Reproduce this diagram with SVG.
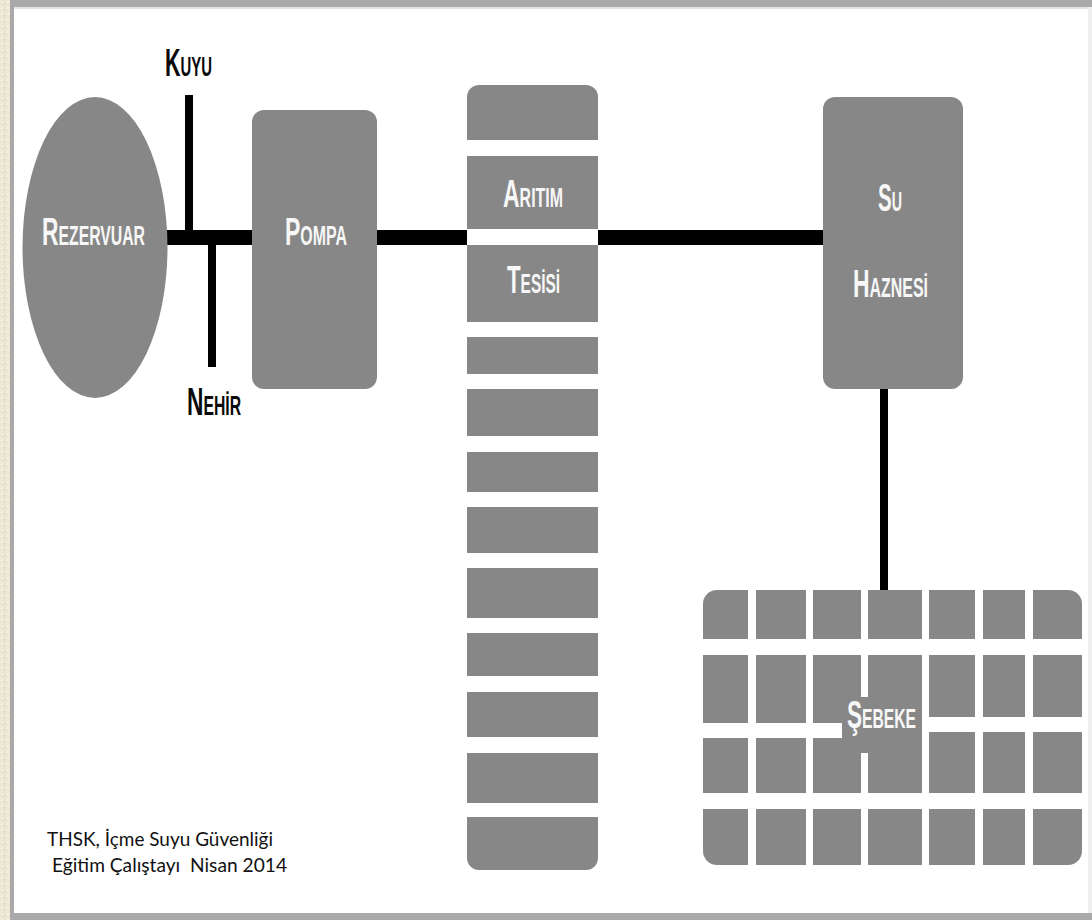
<svg xmlns="http://www.w3.org/2000/svg" width="1092" height="920" viewBox="0 0 1092 920">
  <defs>
    <pattern id="linen" width="6" height="6" patternUnits="userSpaceOnUse">
      <rect width="6" height="6" fill="#ebe7d3"/>
      <rect x="1" y="1" width="2" height="2" fill="#f6f3e6"/>
      <rect x="4" y="3" width="1" height="2" fill="#d9d4bd"/>
    </pattern>
  </defs>
  <style>
    .shape { fill: #878787; }
    .wire { fill: #000000; }
    .gap { fill: #ffffff; }
    .lbl { font-family: "Liberation Sans", Arial, sans-serif; font-weight: bold; font-variant: small-caps; font-size: 39px; fill: #f7f7f7; }
    .dark { fill: #0a0a0a; }
    .note { font-family: Lato, "Liberation Sans", sans-serif; font-size: 19px; fill: #111111; white-space: pre; }
  </style>

  <!-- page frame -->
  <rect x="0" y="0" width="1092" height="920" fill="#ffffff"/>
  <rect x="0" y="0" width="10" height="920" fill="url(#linen)"/>
  <rect x="10" y="0" width="4" height="920" fill="#a9a9a9"/>
  <rect x="10" y="0" width="1082" height="7" fill="#a9a9a9"/>
  <rect x="14" y="7" width="1078" height="2" fill="#e4e4e4"/>
  <rect x="1088" y="7" width="4" height="906" fill="#eeeeee"/>
  <rect x="10" y="913" width="1082" height="7" fill="#a9a9a9"/>

  <!-- pipes -->
  <g id="connectors">
    <rect class="wire" x="160" y="230" width="93" height="15"/>
    <rect class="wire" x="185" y="95" width="8" height="140"/>
    <rect class="wire" x="208" y="240" width="8" height="127"/>
    <rect class="wire" x="376" y="230" width="92" height="15"/>
    <rect class="wire" x="597" y="230" width="227" height="15"/>
    <rect class="wire" x="880" y="387" width="8" height="205"/>
  </g>

  <g id="rezervuar">
    <ellipse class="shape" cx="95" cy="247.5" rx="72.5" ry="150.5"/>
    <text class="lbl" x="42" y="245" textLength="103" lengthAdjust="spacingAndGlyphs" xml:lang="tr">Rezervuar</text>
  </g>

  <g id="kuyu">
    <text class="lbl dark" x="165" y="76" textLength="47" lengthAdjust="spacingAndGlyphs" xml:lang="tr">Kuyu</text>
  </g>

  <g id="nehir">
    <text class="lbl dark" x="187" y="415" textLength="54" lengthAdjust="spacingAndGlyphs" xml:lang="tr">Nehir</text>
  </g>

  <g id="pompa">
    <rect class="shape" x="252" y="110" width="125" height="279" rx="12"/>
    <text class="lbl" x="285" y="245" textLength="62" lengthAdjust="spacingAndGlyphs" xml:lang="tr">Pompa</text>
  </g>

  <g id="aritim-tesisi">
    <rect class="shape" x="467" y="85" width="131" height="785" rx="12"/>
    <rect class="gap" x="467" y="140" width="131" height="16"/>
    <rect class="gap" x="467" y="229" width="131" height="16"/>
    <rect class="gap" x="467" y="322" width="131" height="15"/>
    <rect class="gap" x="467" y="374" width="131" height="15"/>
    <rect class="gap" x="467" y="436" width="131" height="16"/>
    <rect class="gap" x="467" y="492" width="131" height="15"/>
    <rect class="gap" x="467" y="553" width="131" height="15"/>
    <rect class="gap" x="467" y="618" width="131" height="15"/>
    <rect class="gap" x="467" y="676" width="131" height="16"/>
    <rect class="gap" x="467" y="737" width="131" height="16"/>
    <rect class="gap" x="467" y="803" width="131" height="14"/>
    <text class="lbl" x="503" y="207" textLength="60" lengthAdjust="spacingAndGlyphs" xml:lang="tr">Arıtım</text>
    <text class="lbl" x="507" y="293" textLength="53" lengthAdjust="spacingAndGlyphs" xml:lang="tr">Tesisi</text>
  </g>

  <g id="su-haznesi">
    <rect class="shape" x="823" y="97" width="140" height="292" rx="12"/>
    <text class="lbl" x="878" y="211" textLength="24" lengthAdjust="spacingAndGlyphs" xml:lang="tr">Su</text>
    <text class="lbl" x="853" y="297" textLength="75" lengthAdjust="spacingAndGlyphs" xml:lang="tr">Haznesi</text>
  </g>

  <g id="sebeke">
    <rect class="shape" x="703" y="590" width="379" height="275" rx="14"/>
    <!-- street grid: vertical gaps -->
    <rect class="gap" x="748" y="590" width="8" height="275"/>
    <rect class="gap" x="806" y="590" width="7" height="275"/>
    <rect class="gap" x="861" y="590" width="7" height="107"/>
    <rect class="gap" x="861" y="753" width="7" height="112"/>
    <rect class="gap" x="922" y="590" width="7" height="275"/>
    <rect class="gap" x="975" y="590" width="8" height="275"/>
    <rect class="gap" x="1025" y="590" width="8" height="275"/>
    <!-- street grid: horizontal gaps -->
    <rect class="gap" x="703" y="639" width="379" height="16"/>
    <rect class="gap" x="703" y="723" width="139" height="15"/>
    <rect class="gap" x="929" y="717" width="153" height="15"/>
    <rect class="gap" x="703" y="793" width="379" height="16"/>
    <text class="lbl" x="847" y="728" font-size="35" textLength="69" lengthAdjust="spacingAndGlyphs" xml:lang="tr">Şebeke</text>
  </g>

  <g id="footer">
    <text class="note" x="47" y="846" textLength="226" lengthAdjust="spacingAndGlyphs" xml:lang="tr">THSK, İçme Suyu Güvenliği</text>
    <text class="note" x="52" y="872" textLength="235" lengthAdjust="spacingAndGlyphs" xml:lang="tr">Eğitim Çalıştayı  Nisan 2014</text>
  </g>
</svg>
